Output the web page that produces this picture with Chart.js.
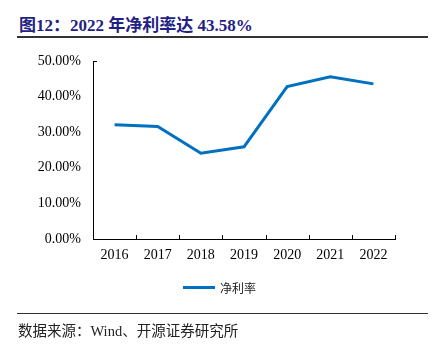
<!DOCTYPE html>
<html>
<head>
<meta charset="utf-8">
<script src="https://cdn.jsdelivr.net/npm/chart.js@4/dist/chart.umd.min.js"></script>
<style>
    body { margin: 0; background: #fff; }
    #wrap { position: relative; width: 438px; height: 352px; overflow: hidden; }
    #title {
        position: absolute; left: 19px; top: 11px;
        font: bold 17px "Liberation Serif", "Noto Sans CJK SC", serif;
        color: #1f2284; white-space: nowrap;
    }
    .rule { position: absolute; left: 17px; width: 411px; height: 1px; background: #333; }
    #legend {
        position: absolute; left: 183px; top: 278px; height: 18px;
        display: flex; align-items: center;
        font: 12px "Noto Sans CJK SC", sans-serif; color: #222;
    }
    #legend span.swatch { display: inline-block; width: 32px; height: 3px; background: #0070c0; margin-right: 5px; }
    #source {
        position: absolute; left: 18px; top: 319px;
        font: 14.5px "Liberation Serif", "Noto Sans CJK SC", serif; color: #222; white-space: nowrap;
    }
    #chartBox { position: absolute; left: 0; top: 0; width: 438px; height: 352px; }
</style>
</head>
<body>
<div id="wrap">
    <div id="title">图12：2022 年净利率达 43.58%</div>
    <div class="rule" style="top:36px;height:1.5px;"></div>
    <div id="chartBox"><canvas id="marginChart"></canvas></div>
    <div id="legend"><span class="swatch"></span>净利率</div>
    <div class="rule" style="top:313px;"></div>
    <div id="source">数据来源：Wind、开源证券研究所</div>
</div>
<script>
const years = ['2016', '2017', '2018', '2019', '2020', '2021', '2022'];
const netMargin = [32.1, 31.6, 24.1, 25.9, 42.8, 45.6, 43.58];
const seriesName = '净利率';

// small tick marks on the x axis (pointing up, at category boundaries) and at the y axis top
const axisTicks = {
    id: 'axisTicks',
    afterDraw(chart) {
        const { ctx, scales: { x, y } } = chart;
        ctx.save();
        ctx.strokeStyle = '#000';
        ctx.lineWidth = 1;
        ctx.beginPath();
        const step = (x.right - x.left) / years.length;
        for (let i = 1; i <= years.length; i++) {
            const px = Math.round(x.left + step * i) + 0.5;
            ctx.moveTo(px, y.bottom);
            ctx.lineTo(px, y.bottom - 4);
        }
        const top = Math.round(y.getPixelForValue(50)) + 0.5;
        ctx.moveTo(x.left, top);
        ctx.lineTo(x.left + 4, top);
        ctx.stroke();
        ctx.restore();
    }
};

new Chart(document.getElementById('marginChart'), {
    type: 'line',
    data: {
        labels: years,
        datasets: [{
            label: seriesName,
            data: netMargin,
            borderColor: '#0070c0',
            borderWidth: 3,
            pointRadius: 0,
            tension: 0,
            fill: false
        }]
    },
    options: {
        responsive: true,
        maintainAspectRatio: false,
        animation: false,
        layout: { padding: { left: 0, top: 61, right: 43, bottom: 93 } },
        plugins: {
            legend: { display: false },
            tooltip: { enabled: false }
        },
        scales: {
            x: {
                offset: true,
                grid: { display: false, drawTicks: false },
                border: { display: true, color: '#000', width: 1 },
                ticks: {
                    color: '#000',
                    padding: 8,
                    font: { family: 'Liberation Serif', size: 14 }
                },
                afterFit(scale) { scale.height = 20; }
            },
            y: {
                min: 0,
                max: 50,
                grid: { display: false, drawTicks: false },
                border: { display: true, color: '#000', width: 1 },
                ticks: {
                    stepSize: 10,
                    color: '#000',
                    padding: 12,
                    font: { family: 'Liberation Serif', size: 14 },
                    callback: v => v.toFixed(2) + '%'
                },
                afterFit(scale) { scale.width = 93; }
            }
        }
    },
    plugins: [axisTicks]
});
</script>
</body>
</html>
